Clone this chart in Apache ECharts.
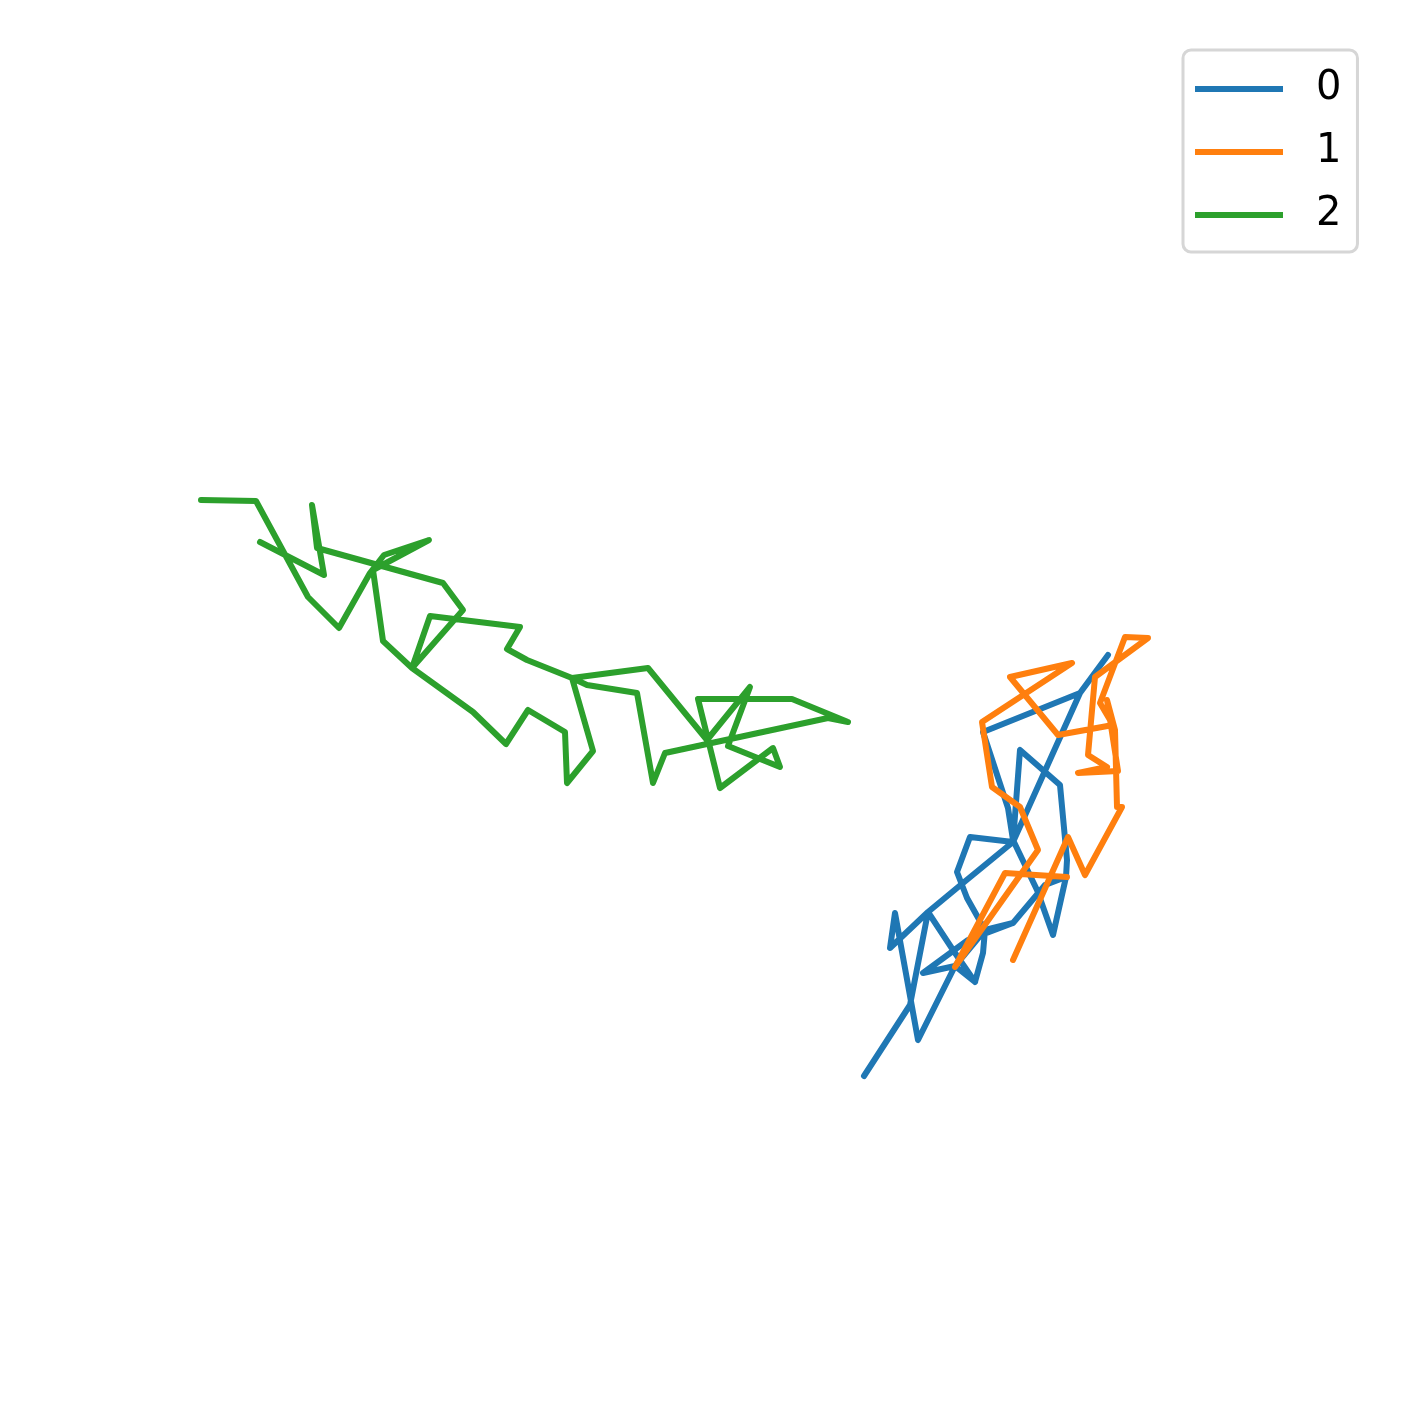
<!DOCTYPE html>
<html>
<head>
<meta charset="utf-8">
<title>random walks</title>
<script src="https://cdn.jsdelivr.net/npm/echarts@6/dist/echarts.min.js"></script>
<style>
  html, body { margin: 0; padding: 0; background: #fff; }
  #chart { width: 1409px; height: 1410px; }
</style>
</head>
<body>
<div id="chart"></div>
<script>
// walk points (x, y in figure units, y pointing down)
var names = ['0', '1', '2'];
var colors = ['#1f77b4', '#ff7f0e', '#2ca02c'];

var walk0 = [
  [1108, 655], [1080, 693], [983, 732], [1008, 808], [1013, 840], [1037, 890],
  [1053, 935], [1066, 877], [1067, 860], [1060, 785], [1020, 750], [1013, 842],
  [1080, 693], [1013, 842], [970, 837], [957, 872], [967, 898], [985, 930],
  [1013, 923], [1045, 885], [1066, 877], [1045, 885], [1013, 923], [968, 940],
  [923, 973], [955, 966], [975, 982], [983, 953], [985, 930], [955, 966],
  [918, 1040], [895, 913], [890, 948], [928, 912], [963, 883], [1013, 842],
  [963, 883], [928, 912], [953, 950], [975, 982], [953, 950], [928, 912],
  [910, 1005], [864, 1076]
];

var walk1 = [
  [1067, 877], [1005, 873], [955, 967], [1038, 850], [1020, 807], [992, 787],
  [982, 722], [1072, 663], [1010, 677], [1058, 735], [1113, 725], [1100, 703],
  [1125, 637], [1148, 638], [1095, 677], [1088, 755], [1107, 767], [1078, 773],
  [1118, 771], [1107, 700], [1115, 730], [1117, 807], [1122, 807], [1085, 875],
  [1068, 837], [1013, 960]
];

var walk2 = [
  [201, 500], [256, 501], [308, 597], [339, 628], [370, 573], [384, 555],
  [429, 540], [373, 570], [383, 641], [412, 668], [430, 616], [520, 627],
  [507, 649], [527, 660], [572, 678], [648, 668], [707, 740], [750, 687],
  [728, 746], [780, 767], [773, 748], [720, 788], [698, 699], [792, 699],
  [848, 722], [828, 718], [665, 753], [653, 783], [637, 693], [587, 685],
  [572, 678], [593, 751], [567, 783], [565, 732], [528, 710], [506, 744],
  [473, 712], [412, 668], [463, 610], [443, 583], [317, 548], [312, 505],
  [324, 575], [260, 542]
];

var walks = [walk0, walk1, walk2];

var chart = echarts.init(document.getElementById('chart'), null, { renderer: 'canvas' });

var series = walks.map(function (w, i) {
  return {
    name: names[i],
    type: 'line',
    data: w,
    showSymbol: false,
    symbol: 'none',
    smooth: false,
    color: colors[i],
    lineStyle: { width: 6, color: colors[i], cap: 'round', join: 'round' },
    emphasis: { disabled: true }
  };
});

var option = {
  animation: false,
  backgroundColor: '#ffffff',
  grid: { left: 0, right: 0, top: 0, bottom: 0 },
  xAxis: { type: 'value', min: 0, max: 1409, show: false },
  yAxis: { type: 'value', min: 0, max: 1410, inverse: true, show: false },
  legend: {
    data: names,
    orient: 'vertical',
    left: 1183,
    top: 50,
    icon: 'rect',
    itemWidth: 88,
    itemHeight: 6,
    itemGap: 23,
    padding: [19, 16, 17, 12],
    backgroundColor: '#ffffff',
    borderColor: '#d6d6d6',
    borderWidth: 3,
    borderRadius: 8,
    textStyle: {
      fontFamily: 'DejaVu Sans',
      fontSize: 40,
      lineHeight: 40,
      color: '#000',
      padding: [0, 0, 0, 28]
    }
  },
  series: series
};

chart.setOption(option);
</script>
</body>
</html>
